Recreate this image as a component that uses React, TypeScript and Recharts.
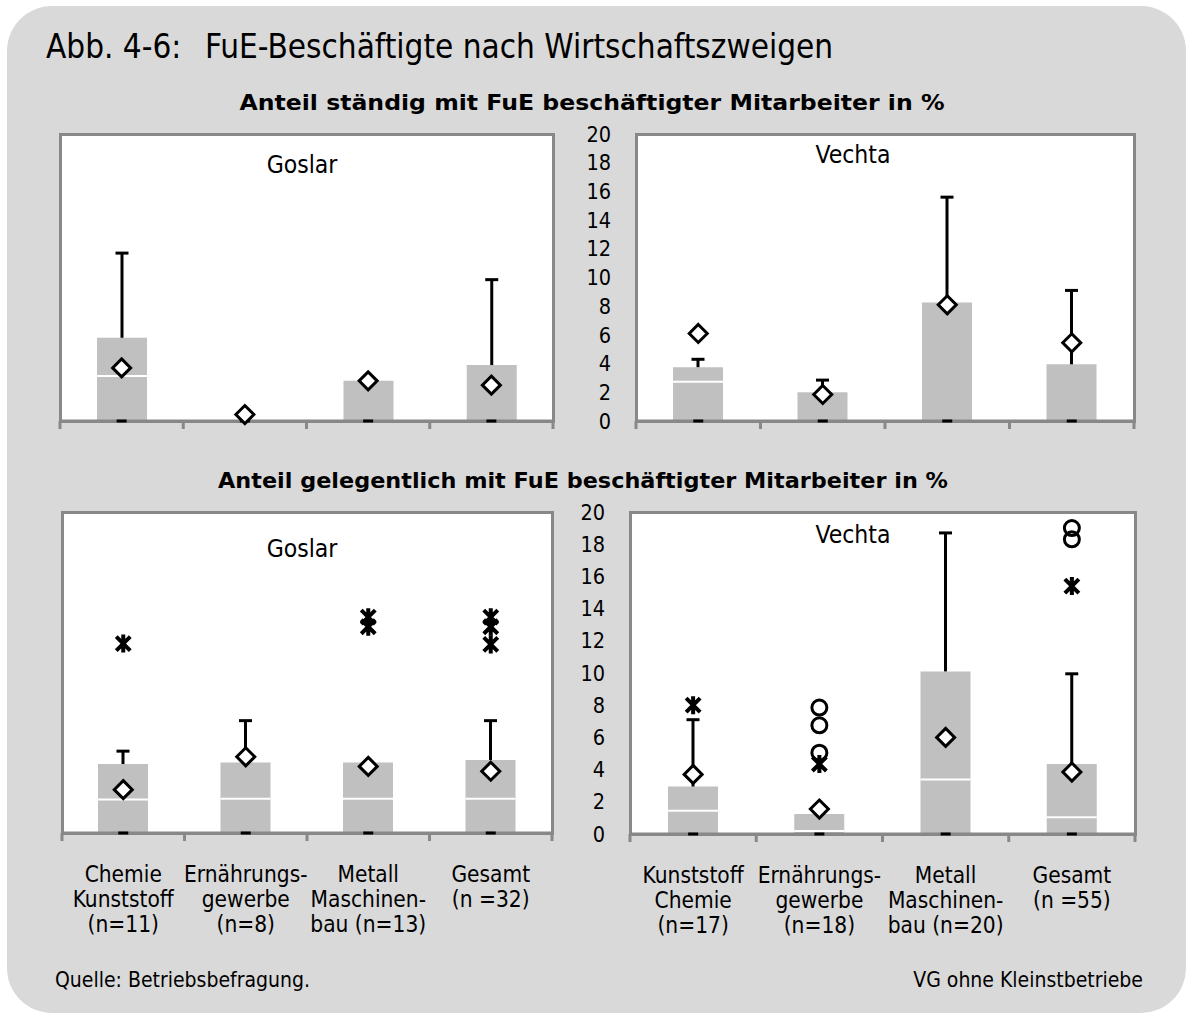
import React from "react";
import { ComposedChart, Bar, Scatter, XAxis, YAxis } from "recharts";

const FONT = "'DejaVu Sans Condensed', 'DejaVu Sans', sans-serif";
const BOLD_FONT = "'DejaVu Sans', sans-serif";
const BOX_FILL = "#c0c0c0";
const FRAME = "#888888";
const PANEL_BG = "#d9d9d9";

// categories (line breaks as in the original)
const goslarCategories = [
  "Chemie\nKunststoff\n(n=11)",
  "Ernährungs-\ngewerbe\n(n=8)",
  "Metall\nMaschinen-\nbau (n=13)",
  "Gesamt\n(n =32)",
];
const vechtaCategories = [
  "Kunststoff\nChemie\n(n=17)",
  "Ernährungs-\ngewerbe\n(n=18)",
  "Metall\nMaschinen-\nbau (n=20)",
  "Gesamt\n(n =55)",
];

const yTicks = [0, 2, 4, 6, 8, 10, 12, 14, 16, 18, 20];

// Anteil ständig mit FuE beschäftigter Mitarbeiter – Goslar
const goslarStaendigMin = [0, 0, 0, 0];
const goslarStaendigQ1 = [0, 0, 0, 0];
const goslarStaendigMedian = [3.2, 0, 0, 0];
const goslarStaendigQ3 = [5.8, 0, 2.8, 3.9];
const goslarStaendigMax = [11.7, 0, 2.8, 9.85];
const goslarStaendigMean = [3.7, 0.45, 2.8, 2.5];

// Anteil ständig – Vechta
const vechtaStaendigMin = [0, 0, 0, 0];
const vechtaStaendigQ1 = [0, 0, 0, 0];
const vechtaStaendigMedian = [2.8, 0, 0, 0];
const vechtaStaendigQ3 = [3.75, 2.0, 8.25, 3.95];
const vechtaStaendigMax = [4.3, 2.85, 15.6, 9.1];
const vechtaStaendigMean = [6.1, 1.85, 8.1, 5.45];

// Anteil gelegentlich – Goslar
const goslarGelegMin = [0, 0, 0, 0];
const goslarGelegQ1 = [0, 0, 0, 0];
const goslarGelegMedian = [2.15, 2.2, 2.2, 2.2];
const goslarGelegQ3 = [4.3, 4.4, 4.4, 4.55];
const goslarGelegMax = [5.1, 7.0, 4.4, 7.0];
const goslarGelegMean = [2.7, 4.75, 4.15, 3.85];
const goslarGelegExtreme = [[11.8], [], [12.85, 13.45], [11.75, 12.85, 13.45]];
const goslarGelegOutlier: number[][] = [[], [], [], []];

// Anteil gelegentlich – Vechta
const vechtaGelegMin = [0, 0, 0, 0];
const vechtaGelegQ1 = [0, 0, 0, 0];
const vechtaGelegMedian = [1.5, 0.25, 3.45, 1.1];
const vechtaGelegQ3 = [2.95, 1.25, 10.1, 4.35];
const vechtaGelegMax = [7.1, 1.4, 18.7, 9.95];
const vechtaGelegMean = [3.7, 1.55, 6.0, 3.85];
const vechtaGelegExtreme = [[8.0], [4.35], [], [15.4]];
const vechtaGelegOutlier = [[], [7.85, 6.75, 5.05], [], [19.0, 18.3]];

const noExtras: number[][] = [[], [], [], []];

type Row = Record<string, number | string | undefined>;

function buildRows(
  cats: string[],
  min: number[],
  q1: number[],
  median: number[],
  q3: number[],
  max: number[],
  mean: number[],
  extreme: number[][],
  outlier: number[][]
): Row[] {
  return cats.map((cat, i) => {
    const row: Row = {
      cat,
      base: q1[i],
      lower: median[i] - q1[i],
      upper: q3[i] - median[i],
      whisker: max[i] - q3[i],
      min: min[i],
      mean: mean[i],
    };
    extreme[i].forEach((v, k) => (row[`ext${k}`] = v));
    outlier[i].forEach((v, k) => (row[`out${k}`] = v));
    return row;
  });
}

const LowerBox = (p: any) => {
  const { x, y, width, height } = p;
  if (!(height > 0.5)) return <g />;
  return (
    <g>
      <rect x={x} y={y} width={width} height={height} fill={BOX_FILL} />
      <line x1={x} x2={x + width} y1={y} y2={y} stroke="#fff" strokeWidth={4} />
    </g>
  );
};

const Whisker = (p: any) => {
  const { x, y, width, height } = p;
  if (!(height > 0.5)) return <g />;
  const cx = x + width / 2;
  return (
    <g stroke="#000" strokeWidth={3}>
      <line x1={cx} x2={cx} y1={y} y2={y + height} />
      <line x1={cx - 6.5} x2={cx + 6.5} y1={y} y2={y} />
    </g>
  );
};

const ok = (p: any) => Number.isFinite(p.cx) && Number.isFinite(p.cy);

const MinCap = (p: any) =>
  ok(p) ? (
    <line x1={p.cx - 5} x2={p.cx + 5} y1={p.cy} y2={p.cy} stroke="#000" strokeWidth={3} />
  ) : (
    <g />
  );

const Diamond = (p: any) =>
  ok(p) ? (
    <path
      d={`M${p.cx},${p.cy - 9}L${p.cx + 9},${p.cy}L${p.cx},${p.cy + 9}L${p.cx - 9},${p.cy}Z`}
      fill="#fff"
      stroke="#000"
      strokeWidth={3}
    />
  ) : (
    <g />
  );

const Asterisk = (p: any) =>
  ok(p) ? (
    <path
      d={`M${p.cx - 7},${p.cy - 7}L${p.cx + 7},${p.cy + 7}M${p.cx + 7},${p.cy - 7}L${p.cx - 7},${p.cy + 7}M${p.cx},${p.cy - 9}L${p.cx},${p.cy + 9}`}
      fill="none"
      stroke="#000"
      strokeWidth={4}
    />
  ) : (
    <g />
  );

const Ring = (p: any) =>
  ok(p) ? <circle cx={p.cx} cy={p.cy} r={7.5} fill="none" stroke="#000" strokeWidth={3} /> : <g />;

function CategoryTick(props: any) {
  const { x, y, payload, index, bandWidth, showLabels, count } = props;
  const lines = showLabels ? String(payload.value).split("\n") : [];
  return (
    <g>
      <line x1={x - bandWidth / 2} x2={x - bandWidth / 2} y1={y} y2={y + 8} stroke={FRAME} strokeWidth={3} />
      {index === count - 1 && (
        <line x1={x + bandWidth / 2} x2={x + bandWidth / 2} y1={y} y2={y + 8} stroke={FRAME} strokeWidth={3} />
      )}
      {lines.map((l, k) => (
        <text key={k} x={x} y={y + 49 + k * 25} textAnchor="middle" fontFamily={FONT} fontSize={22.5} fill="#000">
          {l}
        </text>
      ))}
    </g>
  );
}

const Y_AXIS_W = 40;

interface PanelProps {
  rows: Row[];
  chartLeft: number;
  chartTop: number;
  chartWidth: number;
  chartHeight: number;
  plotLeft: number;
  plotTop: number;
  plotRight: number;
  plotBottom: number;
  showY: boolean;
  showLabels: boolean;
}

function Panel(p: PanelProps) {
  const yw = p.showY ? Y_AXIS_W : 0;
  const plotW = p.plotRight - p.plotLeft;
  const bandWidth = plotW / p.rows.length;
  const extKeys = ["ext0", "ext1", "ext2"];
  const outKeys = ["out0", "out1", "out2"];
  return (
    <>
      <div
        style={{
          position: "absolute",
          left: p.plotLeft - 1.5,
          top: p.plotTop - 1.5,
          width: plotW + 3,
          height: p.plotBottom - p.plotTop + 3,
          border: `3px solid ${FRAME}`,
          boxSizing: "border-box",
          background: "#fff",
        }}
      />
      <div style={{ position: "absolute", left: p.chartLeft, top: p.chartTop }}>
        <ComposedChart
          width={p.chartWidth}
          height={p.chartHeight}
          data={p.rows}
          margin={{
            top: p.plotTop - p.chartTop,
            left: p.plotLeft - p.chartLeft - yw,
            right: p.chartLeft + p.chartWidth - p.plotRight,
            bottom: 0,
          }}
        >
          <XAxis
            dataKey="cat"
            interval={0}
            height={p.chartTop + p.chartHeight - p.plotBottom}
            axisLine={{ stroke: FRAME, strokeWidth: 3 }}
            tickLine={false}
            tickSize={0}
            tickMargin={0}
            tick={(tp: any) => (
              <CategoryTick {...tp} bandWidth={bandWidth} showLabels={p.showLabels} count={p.rows.length} />
            )}
          />
          <YAxis
            hide={!p.showY}
            width={Y_AXIS_W}
            domain={[0, 20]}
            ticks={yTicks}
            interval={0}
            axisLine={false}
            tickLine={false}
            tickSize={0}
            tickMargin={25}
            tick={{ fontSize: 21.5, fill: "#000", fontFamily: FONT }}
          />
          <Bar dataKey="base" stackId="box" fill="transparent" barSize={50} isAnimationActive={false} />
          <Bar dataKey="lower" stackId="box" fill={BOX_FILL} barSize={50} shape={LowerBox} isAnimationActive={false} />
          <Bar dataKey="upper" stackId="box" fill={BOX_FILL} barSize={50} isAnimationActive={false} />
          <Bar dataKey="whisker" stackId="box" fill="none" barSize={50} shape={Whisker} isAnimationActive={false} />
          <Scatter dataKey="min" shape={MinCap} isAnimationActive={false} />
          {extKeys.map((k) => (
            <Scatter key={k} dataKey={k} shape={Asterisk} isAnimationActive={false} />
          ))}
          {outKeys.map((k) => (
            <Scatter key={k} dataKey={k} shape={Ring} isAnimationActive={false} />
          ))}
          <Scatter dataKey="mean" shape={Diamond} isAnimationActive={false} />
        </ComposedChart>
      </div>
    </>
  );
}

export default function App() {
  const goslarTop = buildRows(goslarCategories, goslarStaendigMin, goslarStaendigQ1, goslarStaendigMedian, goslarStaendigQ3, goslarStaendigMax, goslarStaendigMean, noExtras, noExtras);
  const vechtaTop = buildRows(vechtaCategories, vechtaStaendigMin, vechtaStaendigQ1, vechtaStaendigMedian, vechtaStaendigQ3, vechtaStaendigMax, vechtaStaendigMean, noExtras, noExtras);
  const goslarBottom = buildRows(goslarCategories, goslarGelegMin, goslarGelegQ1, goslarGelegMedian, goslarGelegQ3, goslarGelegMax, goslarGelegMean, goslarGelegExtreme, goslarGelegOutlier);
  const vechtaBottom = buildRows(vechtaCategories, vechtaGelegMin, vechtaGelegQ1, vechtaGelegMedian, vechtaGelegQ3, vechtaGelegMax, vechtaGelegMean, vechtaGelegExtreme, vechtaGelegOutlier);

  return (
    <div style={{ position: "absolute", left: 0, top: 0, width: 1186, height: 1014, overflow: "hidden", background: "#fff" }}>
      <div
        style={{
          position: "absolute",
          left: 7,
          top: 6,
          width: 1179,
          height: 1007,
          borderRadius: 45,
          background: PANEL_BG,
        }}
      />
      <Panel rows={goslarTop} chartLeft={40} chartTop={120} chartWidth={540} chartHeight={340} plotLeft={60} plotTop={134} plotRight={553} plotBottom={421} showY={false} showLabels={false} />
      <Panel rows={vechtaTop} chartLeft={570} chartTop={120} chartWidth={590} chartHeight={340} plotLeft={636} plotTop={134} plotRight={1134} plotBottom={421} showY={true} showLabels={false} />
      <Panel rows={goslarBottom} chartLeft={40} chartTop={498} chartWidth={540} chartHeight={450} plotLeft={62} plotTop={512} plotRight={552} plotBottom={833} showY={false} showLabels={true} />
      <Panel rows={vechtaBottom} chartLeft={570} chartTop={498} chartWidth={590} chartHeight={450} plotLeft={630} plotTop={512} plotRight={1135} plotBottom={834} showY={true} showLabels={true} />
      <svg width={1186} height={1014} style={{ position: "absolute", left: 0, top: 0, pointerEvents: "none" }} fontFamily={FONT}>
        <text x={46} y={58} fontSize={33} fill="#000">Abb. 4-6:</text>
        <text x={205} y={58} fontSize={33} fill="#000">FuE-Beschäftigte nach Wirtschaftszweigen</text>
        <text x={592} y={110} fontSize={22} fontWeight="bold" fontFamily={BOLD_FONT} textAnchor="middle" fill="#000" textLength={705} lengthAdjust="spacingAndGlyphs">
          Anteil ständig mit FuE beschäftigter Mitarbeiter in %
        </text>
        <text x={583} y={488} fontSize={22} fontWeight="bold" fontFamily={BOLD_FONT} textAnchor="middle" fill="#000" textLength={730} lengthAdjust="spacingAndGlyphs">
          Anteil gelegentlich mit FuE beschäftigter Mitarbeiter in %
        </text>
        <text x={302} y={173} fontSize={24.5} textAnchor="middle" fill="#000">Goslar</text>
        <text x={853} y={163} fontSize={24.5} textAnchor="middle" fill="#000">Vechta</text>
        <text x={302} y={557} fontSize={24.5} textAnchor="middle" fill="#000">Goslar</text>
        <text x={853} y={543} fontSize={24.5} textAnchor="middle" fill="#000">Vechta</text>
        <text x={55} y={987} fontSize={21} fill="#000">Quelle: Betriebsbefragung.</text>
        <text x={1143} y={987} fontSize={21} textAnchor="end" fill="#000">VG ohne Kleinstbetriebe</text>
      </svg>
    </div>
  );
}
